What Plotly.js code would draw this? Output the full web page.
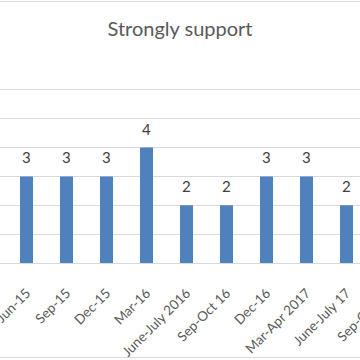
<!DOCTYPE html>
<html>
<head>
<meta charset="utf-8">
<script src="https://cdn.plot.ly/plotly-3.0.1.min.js"></script>
<style>
html,body{margin:0;padding:0;width:360px;height:360px;overflow:hidden;background:#fff;}
#wrap{position:relative;width:360px;height:360px;overflow:hidden;}
#chart{position:absolute;left:0;top:0;width:400px;height:360px;}
.bd{position:absolute;left:0;width:360px;height:1px;background:#d9d9d9;}
</style>
</head>
<body>
<div id="wrap">
<div id="chart"></div>
<div class="bd" style="top:1px"></div>
<div class="bd" style="top:357px"></div>
</div>
<script>
const categories = ["Jun-15","Sep-15","Dec-15","Mar-16","June-July 2016","Sep-Oct 16","Dec-16","Mar-Apr 2017","June-July 17","Sep-Oct 17"];
const values = [3,3,3,4,2,2,3,3,2,null];
const chartTitle = "Strongly support";

const font = "Lato, 'Liberation Sans', sans-serif";

const annotations = categories.map((c,i)=>values[i]==null?null:({
  x:c, y:values[i], xref:'x', yref:'y', text:String(values[i]),
  showarrow:false, yanchor:'bottom', yshift:8,
  font:{family:font,size:15,color:'#404040'}
})).filter(a=>a);

Plotly.newPlot('chart',[{
  type:'bar', x:categories, y:values,
  marker:{color:'#4f81bd'},
  hoverinfo:'none'
}],{
  width:400, height:360,
  margin:{l:0,r:0,t:61,b:97},
  paper_bgcolor:'rgba(0,0,0,0)', plot_bgcolor:'rgba(0,0,0,0)',
  bargap:0.675,
  title:{text:chartTitle, font:{family:font,size:20,color:'#595959'},
    x:0.45, xanchor:'center', y:1-29/360, yanchor:'middle', xref:'container', yref:'container'},
  xaxis:{type:'category', range:[-0.6625,9.3375], tickangle:-45,
    tickfont:{family:font,size:13.5,color:'#595959'},
    showline:true, linecolor:'#d9d9d9', linewidth:1, ticks:'', showgrid:false,
    ticklabelstandoff:16},
  yaxis:{range:[0,7], dtick:1, showticklabels:false, gridcolor:'#d9d9d9', gridwidth:1,
    zeroline:false, showline:false, fixedrange:true},
  annotations:annotations,
  showlegend:false
},{staticPlot:true, displayModeBar:false});
</script>
</body>
</html>
